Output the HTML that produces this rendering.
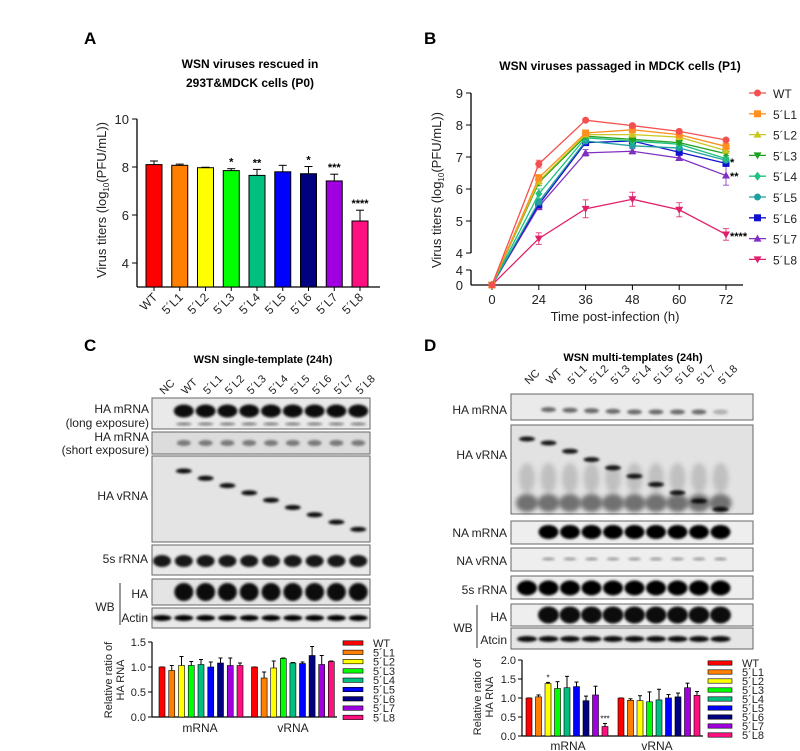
<!DOCTYPE html>
<html><head><meta charset="utf-8"><style>
body{margin:0;background:#fff}
svg{display:block;font-family:"Liberation Sans",Arial,sans-serif}
</style></head><body>
<svg id="s" width="800" height="751" viewBox="0 0 800 751" xmlns="http://www.w3.org/2000/svg">
<defs>
<filter id="bl" x="-50%" y="-50%" width="200%" height="200%"><feGaussianBlur stdDeviation="1.2"/></filter>
<filter id="bl2" x="-50%" y="-50%" width="200%" height="200%"><feGaussianBlur stdDeviation="2.5"/></filter>
</defs>
<g id="g"></g>
</svg>
<script>
var g=document.getElementById('g'),out='';
function A(s){out+=s;}
function T(x,y,t,o){o=o||{};A('<text x="'+x+'" y="'+y+'" font-size="'+(o.fs||12)+'"'+(o.b?' font-weight="bold"':'')+' text-anchor="'+(o.a||'start')+'"'+(o.r!=null?' transform="rotate('+o.r+' '+x+' '+y+')"':'')+' fill="'+(o.c||'#000')+'">'+t+'</text>');}
function L(x1,y1,x2,y2,c,w){A('<line x1="'+x1+'" y1="'+y1+'" x2="'+x2+'" y2="'+y2+'" stroke="'+(c||'#000')+'" stroke-width="'+(w||1)+'"/>');}
var cols=['#ff0000','#ff8000','#ffff00','#00ff00','#00c080','#0000ff','#000080','#a000e0','#ff1080'];
var names=['WT','5´L1','5´L2','5´L3','5´L4','5´L5','5´L6','5´L7','5´L8'];
// ---------- Panel A
T(84,44,'A',{fs:17,b:1});
T(250,68,'WSN viruses rescued in',{fs:12,b:1,a:'middle'});
T(250,87,'293T&amp;MDCK cells (P0)',{fs:12,b:1,a:'middle'});
function yA(v){return 167-(v-8)*24;}
L(137,119,137,287,'#000',1.3);L(137,287,380,287,'#000',1.3);
[10,8,6,4].forEach(function(v){L(132,yA(v),137,yA(v));T(129,yA(v)+5,v,{fs:13,a:'end',c:'#222'});});
var av=[8.1,8.07,7.97,7.85,7.65,7.8,7.72,7.42,5.75],ae=[.15,.05,.02,.08,.25,.27,.3,.28,.45],as=['','','','*','**','','*','***','****'];
av.forEach(function(v,i){var cx=154+i*25.75;
 L(cx,yA(v),cx,yA(v+ae[i]));L(cx-4,yA(v+ae[i]),cx+4,yA(v+ae[i]));
 A('<rect x="'+(cx-8)+'" y="'+yA(v)+'" width="16" height="'+(287-yA(v))+'" fill="'+cols[i]+'" stroke="#000" stroke-width="1"/>');
 L(cx,287,cx,291);
 if(as[i])T(cx,yA(v+ae[i])-3,as[i],{fs:11,b:1,a:'middle'});
 T(cx+4,298,names[i],{fs:12,a:'end',r:-45,c:'#222'});
});
A('<text x="106" y="200" font-size="13" text-anchor="middle" transform="rotate(-90 106 200)" fill="#222">Virus titers (log<tspan font-size="8" dy="3">10</tspan><tspan dy="-3">(PFU/mL))</tspan></text>');
// ---------- Panel B
T(424,44,'B',{fs:17,b:1});
T(620,70,'WSN viruses passaged in MDCK cells (P1)',{fs:12,b:1,a:'middle'});
function yB(v){return v==0?285:125-(v-8)*32;}
L(471,93,471,253,'#000',1.3);L(471,270,471,285,'#000',1.3);L(471,285,743,285,'#000',1.3);
[9,8,7,6,5,4].forEach(function(v){L(466,yB(v),471,yB(v));T(463,yB(v)+5,v,{fs:13,a:'end',c:'#222'});});
L(466,270,471,270);T(463,275,'4',{fs:13,a:'end',c:'#222'});T(463,290,'0',{fs:13,a:'end',c:'#222'});
var xs=[0,24,36,48,60,72];
xs.forEach(function(t,i){var x=492+i*46.8;L(x,285,x,290);T(x,304,t,{fs:13,a:'middle',c:'#222'});});
T(615,321,'Time post-infection (h)',{fs:13,a:'middle',c:'#222'});
A('<text x="441" y="190" font-size="13" text-anchor="middle" transform="rotate(-90 441 190)" fill="#222">Virus titers (log<tspan font-size="8" dy="3">10</tspan><tspan dy="-3">(PFU/mL))</tspan></text>');
var bc=['#f55050','#ff9020','#c8c820','#20a020','#20c080','#20a0a0','#1010d0','#8030c0','#e0206a'];
var mk=['c','s','t','v','d','c','s','t','v'];
var bd=[[6.78,8.15,7.98,7.8,7.53],[6.35,7.75,7.85,7.7,7.33],[6.25,7.7,7.7,7.62,7.2],[6.2,7.65,7.55,7.45,7.1],[5.85,7.6,7.5,7.4,6.95],[5.6,7.5,7.35,7.28,6.9],[5.52,7.45,7.5,7.15,6.8],[5.45,7.13,7.18,6.97,6.42],[4.45,5.38,5.68,5.35,4.58]];
var be=[[.12,.05,.05,.05,.05],[.1,.05,.05,.05,.05],[.1,.05,.05,.05,.05],[.1,.05,.05,.05,.05],[.15,.05,.05,.05,.05],[.1,.05,.05,.05,.05],[.1,.08,.05,.05,.05],[.1,.1,.08,.08,.3],[.18,.28,.22,.22,.18]];
function M(t,x,y,c,r){r=r||3.5;
 if(t=='c')return '<circle cx="'+x+'" cy="'+y+'" r="'+r+'" fill="'+c+'"/>';
 if(t=='s')return '<rect x="'+(x-r)+'" y="'+(y-r)+'" width="'+2*r+'" height="'+2*r+'" fill="'+c+'"/>';
 if(t=='t')return '<polygon points="'+x+','+(y-r-0.5)+' '+(x+r+0.5)+','+(y+r-0.5)+' '+(x-r-0.5)+','+(y+r-0.5)+'" fill="'+c+'"/>';
 if(t=='v')return '<polygon points="'+x+','+(y+r+0.5)+' '+(x+r+0.5)+','+(y-r+0.5)+' '+(x-r-0.5)+','+(y-r+0.5)+'" fill="'+c+'"/>';
 return '<polygon points="'+x+','+(y-r-1)+' '+(x+r)+','+y+' '+x+','+(y+r+1)+' '+(x-r)+','+y+'" fill="'+c+'"/>';}
for(var k=8;k>=0;k--){var pts=['492,285'];
 bd[k].forEach(function(v,i){var x=492+(i+1)*46.8;pts.push(x+','+yB(v));
  var e=be[k][i];L(x,yB(v-e),x,yB(v+e),bc[k],0.8);L(x-3,yB(v-e),x+3,yB(v-e),bc[k],0.8);L(x-3,yB(v+e),x+3,yB(v+e),bc[k],0.8);});
 A('<polyline points="'+pts.join(' ')+'" fill="none" stroke="'+bc[k]+'" stroke-width="1.3"/>');
 A(M(mk[k],492,285,bc[k]));
 bd[k].forEach(function(v,i){A(M(mk[k],492+(i+1)*46.8,yB(v),bc[k]));});
}
T(730,166,'*',{fs:11,b:1});T(730,180,'**',{fs:11,b:1});T(730,240,'****',{fs:11,b:1});
names.forEach(function(n,i){var y=93+i*20.8;L(749,y,766,y,bc[i],1.3);A(M(mk[i],757.5,y,bc[i]));T(773,y+5,n,{fs:12,c:'#222'});});
// ---------- blots helper
function box(x1,y1,x2,y2,bg){A('<rect x="'+x1+'" y="'+y1+'" width="'+(x2-x1)+'" height="'+(y2-y1)+'" fill="'+(bg||'#e9e9e9')+'" stroke="#666" stroke-width="1"/>');}
function band(x,y,w,h,op,f){A('<ellipse cx="'+x+'" cy="'+y+'" rx="'+w/2+'" ry="'+h/2+'" fill="#000" fill-opacity="'+op+'" filter="url(#'+(f||'bl')+')"/>');}
// ---------- Panel C
T(84,351,'C',{fs:17,b:1});
T(263,363,'WSN single-template (24h)',{fs:11,b:1,a:'middle'});
var lc=[];for(var i=0;i<10;i++)lc.push(162+i*21.8);
var ln=['NC'].concat(names);
ln.forEach(function(n,i){T(lc[i]+2,395,n,{fs:11,r:-45,c:'#222'});});
box(152,398,370,429);box(152,432,370,454,'#dcdcdc');box(152,456,370,542,'#e4e4e4');box(152,545,370,575);box(152,579,370,605,'#e4e4e4');box(152,608,370,628);
for(i=1;i<10;i++){band(lc[i],411,20,13,0.95);band(lc[i],424,16,3,0.45);band(lc[i],443,14,6,0.45);}
for(i=1;i<10;i++){var y=471+(i-1)*7.3;band(lc[i],y,16,5,0.95,'bl');}
for(i=0;i<10;i++){band(lc[i],561,18,12,0.9);band(lc[i],618,19,6,1);}
for(i=1;i<10;i++){band(lc[i],592,19,18,0.95);}
T(149,413,'HA mRNA',{fs:12,a:'end',c:'#222'});T(149,427,'(long exposure)',{fs:12,a:'end',c:'#222'});
T(149,441,'HA mRNA',{fs:12,a:'end',c:'#222'});T(149,454,'(short exposure)',{fs:12,a:'end',c:'#222'});
T(148,500,'HA vRNA',{fs:12,a:'end',c:'#222'});T(148,563,'5s rRNA',{fs:12,a:'end',c:'#222'});
T(148,598,'HA',{fs:12,a:'end',c:'#222'});T(148,622,'Actin',{fs:12,a:'end',c:'#222'});T(105,611,'WB',{fs:12,a:'middle',c:'#222'});
L(120,583,120,625,'#333',1);
function bars(ax,y0,ppu,xend,ticks,grp,leg,lx,ly,ls,yl){
 L(ax,y0-ppu*ticks[ticks.length-1],ax,y0,'#000',1.2);L(ax,y0,xend,y0,'#000',1.2);
 ticks.forEach(function(v){L(ax-4,y0-v*ppu,ax,y0-v*ppu);T(ax-6,y0-v*ppu+4,v.toFixed(1),{fs:11,a:'end',c:'#222'});});
 grp.forEach(function(gr){gr.v.forEach(function(v,i){var cx=gr.x0+i*gr.st,e=gr.e[i];
  L(cx,y0-v*ppu,cx,y0-(v+e)*ppu);L(cx-2,y0-(v+e)*ppu,cx+2,y0-(v+e)*ppu);
  A('<rect x="'+(cx-3)+'" y="'+(y0-v*ppu)+'" width="6" height="'+v*ppu+'" fill="'+cols[i]+'" stroke="#000" stroke-width="0.6"/>');
  if(gr.s&&gr.s[i])T(cx,y0-(v+e)*ppu-2,gr.s[i],{fs:8,a:'middle'});});
  T(gr.lx,gr.ly,gr.n,{fs:12,a:'middle',c:'#222'});});
 names.forEach(function(n,i){var y=ly+i*ls;A('<rect x="'+lx+'" y="'+(y-2.2)+'" width="'+leg+'" height="4.4" fill="'+cols[i]+'" stroke="#000" stroke-width="0.6"/>');T(lx+leg+10,y+4,n,{fs:11,c:'#222'});});
 A('<text font-size="11" text-anchor="middle" fill="#222" transform="translate('+yl[0]+' '+yl[2]+') rotate(-90)"><tspan x="0" y="0">Relative ratio of</tspan><tspan x="0" y="12">HA RNA</tspan></text>');
}
bars(152,717,50,337,[0,0.5,1,1.5],[
 {x0:162,st:9.75,v:[1,.93,1.03,1.03,1.05,1,1.08,1.03,1.03],e:[0,.1,.18,.08,.1,.1,.1,.15,.05],n:'mRNA',lx:200,ly:732},
 {x0:254.5,st:9.6,v:[1,.78,.98,1.17,1.08,1.07,1.23,1.05,1.11],e:[0,.12,.14,.01,.01,.03,.18,.18,.01],n:'vRNA',lx:293,ly:732}],
 20,343,643,9.3,[112,0,680]);
// ---------- Panel D
T(424,351,'D',{fs:17,b:1});
T(633,361,'WSN multi-templates (24h)',{fs:11,b:1,a:'middle'});
var ld=[];for(i=0;i<10;i++)ld.push(527+i*21.5);
ln.forEach(function(n,i){T(ld[i]+2,385,n,{fs:11,r:-45,c:'#222'});});
box(511,394,753,420,'#eaeaea');box(511,425,753,514,'#e2e2e2');box(511,521,753,544,'#eeeeee');box(511,548,753,571,'#eeeeee');box(511,576,753,599,'#eeeeee');box(511,604,753,626,'#eeeeee');box(511,628,753,649,'#e6e6e6');
for(i=0;i<10;i++){var xv=ld[i];
 if(i>0){band(xv,409+Math.min(i,5)*0.6,15,5,i==9?0.25:0.55);band(xv,532,20,14,1);band(xv,559,13,3,0.35);band(xv,615,21,17,0.95);}
 band(xv,588,20,15,1);band(xv,639,20,6,0.95);
 band(xv,503,22,18,0.5,'bl2');band(xv,478,16,30,0.15,'bl2');
 band(xv,(i==0?439:443)+(i>0?(i-1)*8.3:0),16,5,0.9);
}
T(507,414,'HA mRNA',{fs:12,a:'end',c:'#222'});T(507,459,'HA vRNA',{fs:12,a:'end',c:'#222'});T(507,537,'NA mRNA',{fs:12,a:'end',c:'#222'});
T(507,565,'NA vRNA',{fs:12,a:'end',c:'#222'});T(507,594,'5s rRNA',{fs:12,a:'end',c:'#222'});T(507,621,'HA',{fs:12,a:'end',c:'#222'});T(507,644,'Atcin',{fs:12,a:'end',c:'#222'});
T(463,632,'WB',{fs:12,a:'middle',c:'#222'});L(477,605,477,648,'#333',1);
bars(522,736,38,703,[0,0.5,1,1.5,2],[
 {x0:529,st:9.5,v:[1,1.03,1.38,1.25,1.27,1.3,.93,1.08,.25],e:[0,.05,.03,.18,.3,.12,.12,.23,.08],s:['','','*','','','','','','***'],n:'mRNA',lx:568,ly:750},
 {x0:621,st:9.5,v:[1,.94,.93,.9,.95,1,1.03,1.27,1.07],e:[0,.04,.13,.26,.28,.09,.1,.12,.1],n:'vRNA',lx:657,ly:750}],
 24,708,663,9,[481,0,697]);
g.innerHTML=out;
</script>
</body></html>
